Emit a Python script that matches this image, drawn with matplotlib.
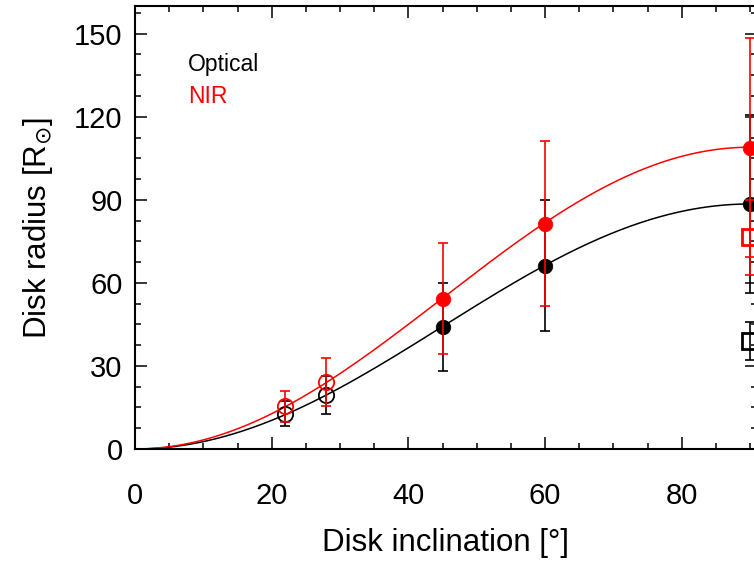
import numpy as np
import matplotlib
matplotlib.use("Agg")
import matplotlib.pyplot as plt
from matplotlib.ticker import MultipleLocator

plt.rcParams['font.family'] = ['Liberation Sans', 'DejaVu Sans']
plt.rcParams['mathtext.fontset'] = 'dejavusans'

# optical (black) measurements
opt_open_x = [22, 28]
opt_open_y = [12.8, 19.5]
opt_open_err = [4.5, 7.0]
opt_fill_x = [45, 60, 90]
opt_fill_y = [44.1, 66.2, 88.5]
opt_fill_err = [16.0, 23.6, 32.0]
opt_sq_x = [90]
opt_sq_y = [39.0]
opt_sq_err = [6.8]

# NIR (red) measurements
nir_open_x = [22, 28]
nir_open_y = [15.4, 24.2]
nir_open_err = [5.6, 8.7]
nir_fill_x = [45, 60, 90]
nir_fill_y = [54.3, 81.4, 108.8]
nir_fill_err = [20.0, 29.7, 39.5]
nir_sq_x = [90]
nir_sq_y = [76.5]
nir_sq_err = [13.5]

# model curves R = Rmax * sin^2(i)
fit_rmax = {'black': 88.5, 'red': 109.0}

fig = plt.figure(figsize=(7.54, 5.64), dpi=100)
ax = fig.add_axes([135 / 754, 115 / 564, 622 / 754, 443 / 564])

inc = np.linspace(1, 90, 300)
for col, rmax in fit_rmax.items():
    ax.plot(inc, rmax * np.sin(np.radians(inc)) ** 2, color=col, lw=1.1, zorder=2)

eb = dict(ls='none', fmt='none', elinewidth=1.2, capsize=3.6, capthick=1.2)
for col, ox, oy, oe, fx, fy, fe, sx, sy, se in [
        ('black', opt_open_x, opt_open_y, opt_open_err, opt_fill_x, opt_fill_y, opt_fill_err,
         opt_sq_x, opt_sq_y, opt_sq_err),
        ('red', nir_open_x, nir_open_y, nir_open_err, nir_fill_x, nir_fill_y, nir_fill_err,
         nir_sq_x, nir_sq_y, nir_sq_err)]:
    z = 3 if col == 'black' else 4
    # error bars first, then the symbols
    ax.errorbar(ox + fx + sx, oy + fy + sy, yerr=oe + fe + se, ecolor=col, zorder=z, **eb)
    ax.plot(ox, oy, 'o', ms=11, mfc='none', mec=col, mew=1.3, zorder=z)
    ax.plot(fx, fy, 'o', ms=10.5, mfc=col, mec=col, mew=0.5, zorder=z)
    ax.plot(sx, sy, 's', ms=12, mfc='none', mec=col, mew=2, zorder=z)

ax.text(0.0855, 0.8675, 'Optical', color='black', fontsize=16.5, va='center',
        transform=ax.transAxes)
ax.text(0.0855, 0.795, 'NIR', color='red', fontsize=16.5, va='center',
        transform=ax.transAxes)

ax.set_xlim(0, 91)
ax.set_ylim(0, 160)
ax.xaxis.set_major_locator(MultipleLocator(20))
ax.xaxis.set_minor_locator(MultipleLocator(5))
ax.yaxis.set_major_locator(MultipleLocator(30))
ax.yaxis.set_minor_locator(MultipleLocator(7.5))
ax.tick_params(which='both', direction='in', top=True, right=True, width=1.1, labelsize=21)
ax.tick_params(which='major', length=8.6)
ax.tick_params(which='minor', length=4.3)
ax.tick_params(axis='x', pad=24)
ax.tick_params(axis='y', pad=9)
for s in ax.spines.values():
    s.set_linewidth(1.5)

ax.set_xlabel('Disk inclination [°]', fontsize=22.5, labelpad=13)
ax.set_ylabel(r'Disk radius [R$_{\odot}$]', fontsize=22.5, labelpad=14)

fig.savefig('out.png', dpi=100)
